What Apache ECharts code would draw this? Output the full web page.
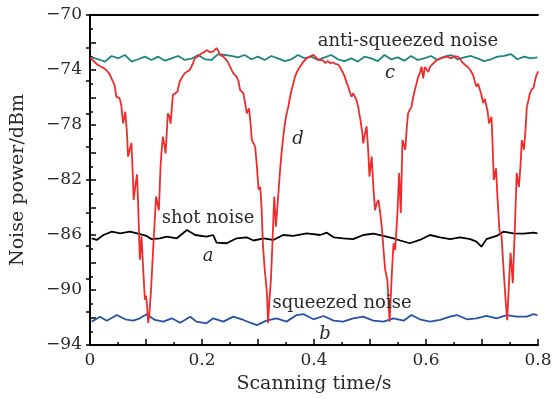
<!DOCTYPE html>
<html>
<head>
<meta charset="utf-8">
<script src="https://cdn.jsdelivr.net/npm/echarts@6/dist/echarts.min.js"></script>
<style>html,body{margin:0;padding:0;background:#fff;}#c{width:555px;height:399px;}</style>
</head>
<body>
<div id="c"></div>
<script>
// Curve d (red): scanning time / noise power
const dTime = [0.000,0.002,0.008,0.014,0.022,0.029,0.035,0.041,0.044,0.047,0.050,0.053,0.056,0.059,0.061,0.063,0.066,0.068,0.071,0.074,0.076,0.078,0.081,0.084,0.086,0.089,0.092,0.095,0.098,0.100,0.102,0.104,0.106,0.109,0.112,0.115,0.118,0.120,0.123,0.126,0.128,0.130,0.133,0.135,0.139,0.142,0.144,0.148,0.152,0.156,0.160,0.165,0.169,0.174,0.178,0.183,0.187,0.193,0.199,0.204,0.208,0.214,0.220,0.226,0.229,0.232,0.237,0.241,0.246,0.250,0.256,0.262,0.265,0.268,0.274,0.277,0.280,0.284,0.287,0.289,0.292,0.295,0.298,0.301,0.304,0.306,0.309,0.312,0.316,0.318,0.320,0.323,0.326,0.329,0.332,0.336,0.339,0.342,0.345,0.348,0.351,0.354,0.357,0.360,0.363,0.366,0.370,0.375,0.381,0.387,0.393,0.399,0.404,0.408,0.411,0.416,0.420,0.425,0.429,0.434,0.438,0.443,0.446,0.449,0.452,0.455,0.458,0.461,0.464,0.467,0.470,0.473,0.476,0.479,0.481,0.483,0.486,0.488,0.491,0.494,0.497,0.499,0.501,0.503,0.506,0.509,0.512,0.515,0.518,0.521,0.524,0.527,0.531,0.533,0.535,0.537,0.539,0.542,0.545,0.549,0.552,0.555,0.558,0.561,0.563,0.566,0.568,0.571,0.574,0.577,0.580,0.583,0.586,0.589,0.592,0.595,0.598,0.601,0.604,0.607,0.610,0.613,0.616,0.620,0.625,0.631,0.637,0.642,0.646,0.649,0.652,0.657,0.661,0.664,0.667,0.670,0.675,0.679,0.684,0.687,0.690,0.693,0.696,0.699,0.702,0.705,0.708,0.710,0.7125,0.715,0.717,0.719,0.721,0.723,0.725,0.728,0.731,0.733,0.735,0.737,0.739,0.741,0.743,0.745,0.747,0.749,0.751,0.753,0.755,0.757,0.759,0.762,0.764,0.766,0.769,0.771,0.773,0.775,0.778,0.780,0.783,0.785,0.788,0.792,0.795,0.797,0.799,0.800];
const dPower = [-73.10,-73.15,-73.40,-73.64,-73.80,-74.00,-74.30,-74.85,-75.10,-75.94,-75.80,-76.06,-76.60,-77.88,-77.50,-77.03,-78.60,-80.30,-79.80,-79.30,-81.20,-83.45,-82.40,-81.60,-83.80,-87.80,-86.10,-88.50,-90.70,-90.40,-91.20,-92.40,-91.80,-90.00,-87.60,-85.40,-83.20,-83.60,-84.20,-81.00,-79.80,-78.85,-79.50,-80.06,-77.15,-77.40,-77.90,-75.80,-75.70,-75.60,-74.85,-74.50,-74.24,-74.10,-74.00,-73.60,-73.15,-73.00,-72.80,-72.70,-72.55,-72.70,-72.67,-72.40,-72.60,-72.90,-73.00,-73.15,-73.40,-73.76,-74.24,-74.50,-74.80,-75.45,-75.70,-76.40,-77.15,-76.80,-78.00,-79.10,-79.30,-79.60,-81.00,-82.70,-82.50,-83.70,-86.85,-88.50,-90.20,-92.40,-91.00,-89.30,-86.40,-83.20,-85.40,-83.20,-81.50,-80.06,-78.90,-77.88,-77.20,-76.70,-76.00,-75.45,-75.00,-74.50,-74.10,-73.76,-73.40,-73.15,-73.00,-72.90,-73.10,-73.27,-73.40,-73.30,-73.50,-73.35,-73.50,-73.45,-73.55,-73.60,-73.75,-74.00,-74.20,-74.50,-74.90,-75.20,-75.60,-75.95,-75.70,-75.60,-76.20,-76.70,-77.20,-77.64,-78.50,-79.33,-78.60,-78.10,-80.00,-81.76,-81.00,-80.30,-82.50,-84.20,-83.70,-83.45,-84.30,-85.40,-87.00,-88.50,-89.27,-90.80,-92.30,-90.60,-88.80,-86.60,-87.10,-84.40,-81.50,-84.40,-79.10,-79.50,-79.80,-78.00,-77.15,-76.90,-76.70,-76.00,-75.45,-75.00,-74.50,-74.24,-73.76,-74.60,-73.78,-73.90,-74.15,-73.80,-73.64,-73.50,-73.40,-73.25,-73.15,-73.10,-73.03,-73.10,-73.15,-73.00,-72.90,-73.03,-73.20,-73.40,-73.50,-73.64,-73.80,-74.00,-74.36,-74.80,-75.20,-75.00,-75.10,-75.80,-76.40,-76.10,-76.20,-77.00,-77.88,-77.60,-77.40,-79.50,-82.00,-81.60,-81.15,-83.50,-85.60,-85.90,-86.10,-87.50,-88.80,-90.00,-91.20,-92.20,-90.50,-88.80,-87.30,-88.30,-89.50,-87.30,-85.15,-81.50,-82.00,-82.50,-80.80,-79.10,-79.40,-79.80,-78.20,-76.70,-76.20,-75.80,-75.45,-75.30,-74.70,-74.40,-74.24,-74.10];

// Curve a (black, shot noise)
const aTime = [0.003,0.012,0.024,0.039,0.054,0.071,0.086,0.101,0.110,0.125,0.137,0.155,0.173,0.188,0.208,0.220,0.226,0.244,0.262,0.280,0.292,0.310,0.327,0.345,0.363,0.387,0.411,0.423,0.435,0.452,0.470,0.488,0.506,0.524,0.542,0.554,0.571,0.589,0.607,0.625,0.643,0.661,0.679,0.690,0.699,0.708,0.726,0.738,0.756,0.774,0.792,0.799];
const aPower = [-86.24,-86.36,-86.00,-85.76,-85.88,-85.76,-85.90,-86.07,-86.30,-86.24,-86.12,-86.24,-85.64,-86.00,-86.12,-86.00,-86.55,-86.60,-86.24,-86.17,-86.40,-86.24,-86.36,-86.00,-86.07,-85.88,-86.00,-85.83,-86.17,-86.24,-86.30,-86.00,-85.90,-86.07,-86.24,-86.40,-86.60,-86.36,-86.00,-86.17,-86.30,-86.17,-86.30,-86.48,-86.85,-86.30,-86.07,-85.76,-85.88,-85.90,-85.83,-85.88];

// Curve b (blue, squeezed noise)
const bTime = [0.003,0.018,0.030,0.048,0.063,0.077,0.089,0.101,0.116,0.131,0.146,0.161,0.179,0.190,0.208,0.220,0.238,0.256,0.274,0.286,0.298,0.315,0.333,0.351,0.369,0.381,0.399,0.417,0.435,0.452,0.470,0.488,0.506,0.524,0.542,0.560,0.574,0.589,0.607,0.625,0.643,0.655,0.673,0.690,0.708,0.726,0.744,0.762,0.780,0.792,0.799];
const bPower = [-92.30,-91.94,-92.23,-91.82,-92.13,-92.23,-92.06,-91.77,-92.18,-92.30,-92.06,-92.38,-91.94,-92.30,-92.42,-92.06,-92.30,-91.94,-92.18,-92.38,-92.55,-92.23,-92.06,-92.30,-91.82,-91.75,-92.13,-91.89,-92.23,-92.30,-92.06,-91.94,-92.23,-92.30,-92.06,-92.23,-91.82,-92.13,-92.30,-92.18,-91.94,-91.82,-92.13,-92.06,-91.89,-92.06,-91.82,-91.94,-91.94,-91.75,-91.82];

// Curve c (teal, anti-squeezed noise), sampled evenly over the scan
const cPower = [-73.08,-73.22,-73.39,-72.98,-73.15,-72.91,-73.39,-73.22,-73.03,-73.27,-73.03,-73.32,-73.15,-72.98,-73.27,-73.18,-72.91,-73.22,-73.27,-72.84,-72.91,-72.98,-73.08,-72.91,-73.22,-73.03,-73.27,-72.98,-73.15,-73.35,-73.22,-72.91,-73.15,-73.03,-73.27,-73.08,-72.91,-73.22,-73.35,-73.15,-73.39,-73.03,-73.15,-73.35,-72.91,-73.22,-73.08,-73.32,-72.98,-73.27,-73.15,-72.98,-73.27,-73.03,-72.91,-73.22,-73.08,-72.98,-73.15,-73.35,-73.22,-73.03,-72.98,-72.84,-73.22,-73.03,-73.15,-73.08];
const cStart = 0.003, cEnd = 0.799;

const xTicks = [0, 0.2, 0.4, 0.6, 0.8];
const yTicks = [-70, -74, -78, -82, -86, -90, -94];

const FONT = 'DejaVu Serif';
const TXT = '#2a2a2a';

function zip(t, v) { return t.map((x, i) => [x, v[i]]); }
const cData = cPower.map((v, i) => [cStart + (cEnd - cStart) * i / (cPower.length - 1), v]);

const chart = echarts.init(document.getElementById('c'), null, {renderer: 'canvas'});
const axisLine = {show: true, lineStyle: {color: '#000', width: 2}};
function label(text, x, y, italic) {
  return {type: 'text', x: x, y: y, z: 10,
    style: {text: text, font: (italic ? 'italic 18px' : '18px') + ' "DejaVu Serif"', fill: TXT, textAlign: 'center', textVerticalAlign: 'middle'}};
}
chart.setOption({
  animation: false,
  backgroundColor: '#fff',
  grid: {left: 90, right: 17, top: 15, bottom: 54, containLabel: false},
  xAxis: [{
    type: 'value', min: 0, max: 0.8, interval: 0.1, position: 'bottom',
    axisLine: axisLine,
    axisTick: {show: true, inside: true, length: 6, lineStyle: {color: '#000', width: 1.5}},
    minorTick: {show: true, splitNumber: 2, length: 3, lineStyle: {color: '#000', width: 1.5}},
    splitLine: {show: false},
    axisLabel: {
      margin: 7, fontFamily: FONT, fontSize: 17, color: TXT,
      formatter: v => { const hit = xTicks.find(t => Math.abs(t - v) < 1e-6); return hit === undefined ? '' : String(hit); }
    },
    name: 'Scanning time/s', nameLocation: 'middle', nameGap: 30,
    nameTextStyle: {fontFamily: FONT, fontSize: 19, color: TXT}
  }, {
    type: 'value', min: 0, max: 0.8, position: 'top',
    axisLine: axisLine, axisTick: {show: false}, axisLabel: {show: false}, splitLine: {show: false}
  }],
  yAxis: [{
    type: 'value', min: -94, max: -70, interval: 2, position: 'left',
    axisLine: axisLine,
    axisTick: {show: true, inside: true, length: 6, lineStyle: {color: '#000', width: 1.5}},
    minorTick: {show: true, splitNumber: 2, length: 3, lineStyle: {color: '#000', width: 1.5}},
    splitLine: {show: false},
    axisLabel: {
      margin: 8, fontFamily: FONT, fontSize: 17, color: TXT,
      formatter: v => { const hit = yTicks.find(t => Math.abs(t - v) < 1e-6); return hit === undefined ? '' : '\u2212' + Math.abs(hit); }
    },
    name: 'Noise power/dBm', nameLocation: 'middle', nameGap: 62, nameRotate: 90,
    nameTextStyle: {fontFamily: FONT, fontSize: 19, color: TXT}
  }, {
    type: 'value', min: 0, max: 10, interval: 1, position: 'right',
    axisLine: axisLine,
    axisTick: {show: true, inside: true, length: 4, lineStyle: {color: '#000', width: 1.5}},
    axisLabel: {show: false}, splitLine: {show: false}
  }],
  series: [
    {type: 'line', name: 'c', data: cData, showSymbol: false, lineStyle: {color: '#1d8580', width: 1.8}, itemStyle: {color: '#1d8580'}, z: 2},
    {type: 'line', name: 'a', data: zip(aTime, aPower), showSymbol: false, lineStyle: {color: '#000', width: 1.8}, itemStyle: {color: '#000'}, z: 2},
    {type: 'line', name: 'b', data: zip(bTime, bPower), showSymbol: false, lineStyle: {color: '#2553a8', width: 1.8}, itemStyle: {color: '#2553a8'}, z: 2},
    {type: 'line', name: 'd', data: zip(dTime, dPower), showSymbol: false, lineStyle: {color: '#ef2b2b', width: 1.8}, itemStyle: {color: '#ef2b2b'}, z: 3}
  ],
  graphic: [
    label('anti-squeezed noise', 408, 41, false),
    label('c', 390, 73, true),
    label('d', 298, 139, true),
    label('shot noise', 208, 218, false),
    label('a', 208, 256, true),
    label('squeezed noise', 342, 303, false),
    label('b', 325, 334, true)
  ]
});
</script>
</body>
</html>
